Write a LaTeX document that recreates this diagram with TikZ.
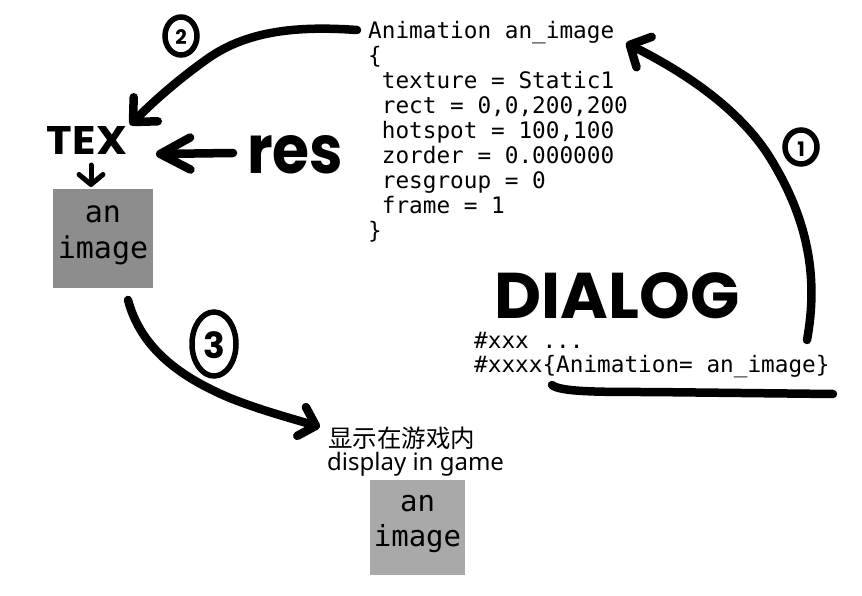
\documentclass[tikz,border=0pt]{standalone}
\usepackage{fontspec}
\usepackage{graphicx}
\usetikzlibrary{arrows.meta}
\setmainfont{Liberation Sans}
\newfontfamily\codefont{DejaVu Sans Mono}
\newfontfamily\handfont{Poppins}
\newfontfamily\cjkfont{Noto Sans CJK SC}
\newfontfamily\uifont{Noto Sans}
\definecolor{boxA}{RGB}{141,141,141}
\definecolor{boxB}{RGB}{169,169,169}
\begin{document}
\begin{tikzpicture}[x=1pt,y=-1pt,
  codeline/.style={anchor=base west, inner sep=0pt, font=\codefont\fontsize{22.7}{25}\selectfont},
  hand/.style={inner sep=0pt, font=\handfont\bfseries\fontsize{40}{40}\selectfont},
  pix/.style={inner sep=0pt, font=\codefont\fontsize{30}{36}\selectfont, align=center},
  stroke/.style={line width=8.5pt, line cap=round, line join=round},
  numring/.style={line width=5.5pt},
  numtext/.style={inner sep=0pt, font=\handfont\bfseries\fontsize{20}{20}\selectfont},
  bigtip/.style={-{Straight Barb[length=#1, width=34pt, round]}},
]
\useasboundingbox (0,0) rectangle (862,596);

% code block
\foreach \t [count=\i] in {Animation an\_image,\{,\ texture = Static1,\ rect = 0{,}0{,}200{,}200,\ hotspot = 100{,}100,\ zorder = 0.000000,\ resgroup = 0,\ frame = 1,\}}
  \node[codeline, name=code\i] at (368,{39+25*(\i-1)}) {\t};

% dialog
\node[codeline] (dlg1) at (474,348) {\#xxx ...};
\node[codeline] (dlg2) at (474,372) {\#xxxx\{Animation= an\_image\}};
\node[hand] (dialog) at (617,296) {\resizebox{245pt}{46pt}{DIALOG}};

% TEX and res
\node[hand] (tex) at (87,141) {\resizebox{80pt}{28pt}{TEX}};
\node[hand] (res) at (295,155) {\resizebox{96pt}{38pt}{res}};

% gray boxes
\node[fill=boxA, minimum width=100pt, minimum height=99pt, inner sep=0pt] (img1) at (103,238.5) {};
\node[pix] (img1t) at (103,235) {an\\image};
\node[fill=boxB, minimum width=95pt, minimum height=95pt, inner sep=0pt] (img2) at (417.5,527.5) {};
\node[pix, font=\codefont\fontsize{29}{35}\selectfont] (img2t) at (417.5,524) {an\\image};

% display text
\node[anchor=base west, inner sep=0pt, font=\cjkfont\fontsize{24.5}{24.5}\selectfont] (zh) at (328,447) {显示在游戏内};
\node[anchor=base west, inner sep=0pt, font=\uifont\fontsize{24}{24}\selectfont] (en) at (327,470) {display in game};

% coordinates
\coordinate (a1s) at (807,340);
\coordinate (a1e) at (626,43);
\coordinate (a2s) at (357,30);
\coordinate (a2e) at (130,125);
\coordinate (a3s) at (128,300);
\coordinate (a3e) at (320,427);
\coordinate (rs) at (233,153);
\coordinate (re) at (156,154);
\coordinate (ts) at (91,165);
\coordinate (te) at (91,187);
\coordinate (ul1) at (552,385);
\coordinate (ul2) at (833,394);

% arrows
\draw[stroke, bigtip=16pt] (a1s) .. controls (818,280) and (810,220) .. (767,153) .. controls (735,105) and (680,70) .. (a1e);
\draw[stroke, bigtip=18pt] (a2s) .. controls (300,26) and (250,30) .. (210,57) .. controls (180,78) and (155,100) .. (a2e);
\draw[stroke, -{Straight Barb[length=15pt, width=30pt, round]}] (a3s) .. controls (140,345) and (175,375) .. (230,398) .. controls (260,410) and (290,418) .. (a3e);
\draw[stroke, -{Straight Barb[length=30pt, width=32pt, round]}] (rs) -- (re);
\draw[line width=5pt, line cap=round, -{Straight Barb[length=10pt, width=24pt, round]}] (ts) -- (te);
\draw[stroke] (ul1) .. controls (560,392) and (600,392) .. (650,392) -- (ul2);

% numbered rings
\draw[numring] (801,147) ellipse (16pt and 17pt);
\node[numtext] (n1) at (801,149) {1};
\draw[numring] (181,36) ellipse (16pt and 19pt);
\node[numtext] (n2) at (181,37) {2};
\draw[numring] (214,344) ellipse (22pt and 32pt);
\node[numtext, font=\handfont\bfseries\fontsize{36}{36}\selectfont] (n3) at (214,345) {3};
\end{tikzpicture}
\end{document}
